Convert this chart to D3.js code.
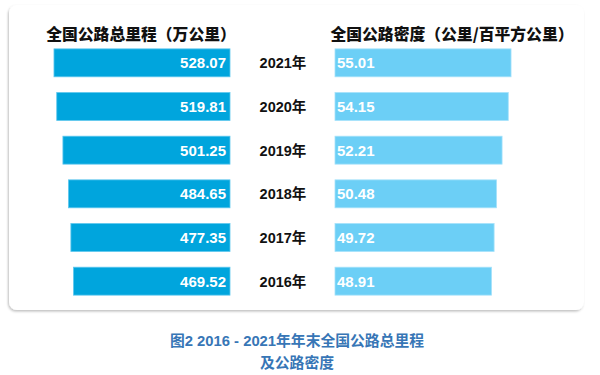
<!DOCTYPE html>
<html lang="zh">
<head>
<meta charset="UTF-8" />
<title>2016-2021年全国公路总里程及公路密度</title>
<script src="https://d3js.org/d3.v7.min.js"></script>
<style>
  body { margin: 0; background: #fff; }
  svg { display: block; font-family: "Liberation Sans", Arial, "Noto Sans CJK SC", sans-serif; }
</style>
</head>
<body>
<svg width="600" height="375"></svg>
<script>
  const years = ["2021年", "2020年", "2019年", "2018年", "2017年", "2016年"];
  const mileage = [528.07, 519.81, 501.25, 484.65, 477.35, 469.52];
  const density = [55.01, 54.15, 52.21, 50.48, 49.72, 48.91];
  const leftTitle = "全国公路总里程（万公里）";
  const rightTitle = "全国公路密度（公里/百平方公里）";
  const caption = ["图2 2016 - 2021年年末全国公路总里程", "及公路密度"];

  const svg = d3.select("svg");

  // carte avec ombre
  const defs = svg.append("defs");
  const f = defs.append("filter").attr("id", "sh").attr("x", "-5%").attr("y", "-5%").attr("width", "110%").attr("height", "110%");
  f.append("feDropShadow").attr("dx", -1).attr("dy", 1.5).attr("stdDeviation", 1.2)
    .attr("flood-color", "#000").attr("flood-opacity", 0.25);
  svg.append("rect")
    .attr("x", 9).attr("y", 5).attr("width", 575).attr("height", 305)
    .attr("rx", 8).attr("fill", "#fff").attr("filter", "url(#sh)");

  const y = d3.scaleBand().domain(years).range([41, 303]).paddingInner(0.36).paddingOuter(0.18);

  // échelles
  const xl = d3.scaleLinear().domain([0, 600]).range([0, 200]);
  const xr = d3.scaleLinear().domain([0, 60]).range([0, 192]);
  const leftEnd = 230, rightStart = 335;

  const cjk = '"Noto Sans CJK SC", sans-serif';

  svg.append("text").attr("x", 141).attr("y", 40).attr("text-anchor", "middle")
    .style("font-family", cjk).style("font-weight", "900").style("font-size", "15.8px")
    .attr("fill", "#111").text(leftTitle);
  svg.append("text").attr("x", 452).attr("y", 40).attr("text-anchor", "middle")
    .style("font-family", cjk).style("font-weight", "900").style("font-size", "15.8px")
    .attr("fill", "#111").text(rightTitle);

  const rows = svg.selectAll("g.row")
    .data(years.map((yr, i) => ({ yr, m: mileage[i], d: density[i] })))
    .join("g").attr("class", "row");

  rows.append("rect")
    .attr("x", d => leftEnd - xl(d.m))
    .attr("y", d => y(d.yr))
    .attr("width", d => xl(d.m))
    .attr("height", y.bandwidth())
    .attr("fill", "#00a5dd")
    .attr("stroke", "#5fc7ee").attr("stroke-width", 0.8);

  rows.append("rect")
    .attr("x", rightStart)
    .attr("y", d => y(d.yr))
    .attr("width", d => xr(d.d))
    .attr("height", y.bandwidth())
    .attr("fill", "#6ccff6")
    .attr("stroke", "#a6e2fa").attr("stroke-width", 0.8);

  rows.append("text")
    .attr("x", leftEnd - 4)
    .attr("y", d => y(d.yr) + y.bandwidth() / 2 + 5.5)
    .attr("text-anchor", "end")
    .attr("fill", "#fff").style("font-weight", "bold").style("font-size", "15px")
    .text(d => d.m.toFixed(2));

  rows.append("text")
    .attr("x", rightStart + 2)
    .attr("y", d => y(d.yr) + y.bandwidth() / 2 + 5.5)
    .attr("fill", "#fff").style("font-weight", "bold").style("font-size", "15px")
    .text(d => d.d.toFixed(2));

  rows.append("text")
    .attr("x", 283)
    .attr("y", d => y(d.yr) + y.bandwidth() / 2 + 5.5)
    .attr("text-anchor", "middle")
    .attr("fill", "#111").style("font-weight", "bold").style("font-size", "14.5px")
    .style("font-family", '"Liberation Sans", "Noto Sans CJK SC", sans-serif')
    .text(d => d.yr);

  svg.selectAll("text.cap").data(caption).join("text").attr("class", "cap")
    .attr("x", 297).attr("y", (d, i) => 346 + i * 22)
    .attr("text-anchor", "middle")
    .style("font-family", '"Liberation Sans", "Noto Sans CJK SC", sans-serif')
    .style("font-weight", "bold").style("font-size", "14.8px")
    .attr("fill", "#3776b6").text(d => d);
</script>
</body>
</html>
